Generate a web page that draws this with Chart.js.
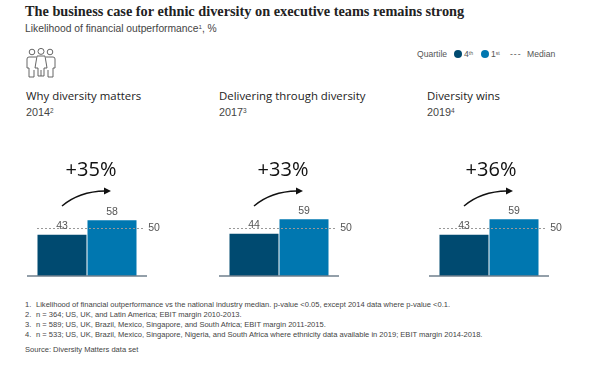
<!DOCTYPE html>
<html>
<head>
    <title>Ethnic diversity on executive teams</title>
    <script src="https://cdn.jsdelivr.net/npm/chart.js"></script>
    <style>
        html, body { margin: 0; padding: 0; background: #fff; overflow: hidden; }
        body { width: 594px; height: 367px; position: relative; font-family: "Liberation Sans", Arial, sans-serif; color: #444; }
        .t { position: absolute; white-space: nowrap; line-height: 1; }
        .t sup { font-size: 0.6em; line-height: 0; vertical-align: baseline; position: relative; top: -0.45em; }
        .title { left: 25px; top: 3px; font: bold 14.3px "Liberation Serif", serif; color: #222; }
        .sub { left: 25px; top: 24px; font-size: 10.3px; color: #444; }
        .panel-title { top: 88px; font: 11.4px "Open Sans", sans-serif; color: #222; }
        .year { top: 107px; font-size: 10.8px; color: #444; }
        .legend { top: 50px; font-size: 8.6px; color: #555; }
        .dot { position: absolute; top: 50px; width: 8px; height: 8px; border-radius: 50%; }
        .note { font-size: 7.55px; color: #444; }
        canvas { position: absolute; top: 150px; }
    </style>
</head>
<body>
    <div class="t title">The business case for ethnic diversity on executive teams remains strong</div>
    <div class="t sub">Likelihood of financial outperformance<sup>1</sup>, %</div>

    <div class="t legend" style="left:417px">Quartile</div>
    <div class="dot" style="left:454px;background:#004a70"></div>
    <div class="t legend" style="left:464px">4<sup>th</sup></div>
    <div class="dot" style="left:481px;background:#0077b0"></div>
    <div class="t legend" style="left:491px">1<sup>st</sup></div>
    <div class="t legend" style="left:510px;letter-spacing:1px">---</div>
    <div class="t legend" style="left:527px">Median</div>

    <svg style="position:absolute;left:26px;top:48px" width="30" height="31" viewBox="0 0 30 31" fill="none" stroke="#555" stroke-width="0.9">
        <circle cx="6" cy="4" r="2.8"/><circle cx="15" cy="3.4" r="3"/><circle cx="24" cy="4" r="2.8"/>
        <path d="M10 9H3Q1 9 1 11V20H3V29H8V22"/>
        <path d="M20 9H27Q29 9 29 11V20H27V29H22V22"/>
        <path d="M11 8H19L21 20H18V28H12V20H9Z"/>
        <path d="M15 22V28"/>
    </svg>

    <div class="t panel-title" style="left:26px">Why diversity matters</div>
    <div class="t panel-title" style="left:219px">Delivering through diversity</div>
    <div class="t panel-title" style="left:427px">Diversity wins</div>
    <div class="t year" style="left:26px">2014<sup>2</sup></div>
    <div class="t year" style="left:219px">2017<sup>3</sup></div>
    <div class="t year" style="left:427px">2019<sup>4</sup></div>

    <canvas id="chart0" width="160" height="130" style="left:20px"></canvas>
    <canvas id="chart1" width="160" height="130" style="left:212px"></canvas>
    <canvas id="chart2" width="160" height="130" style="left:422px"></canvas>

    <div class="t note" style="left:25px;top:301px">1.</div>
    <div class="t note" style="left:36px;top:301px">Likelihood of financial outperformance vs the national industry median. p-value &lt;0.05, except 2014 data where p-value &lt;0.1.</div>
    <div class="t note" style="left:25px;top:311px">2.</div>
    <div class="t note" style="left:36px;top:311px">n = 364; US, UK, and Latin America; EBIT margin 2010-2013.</div>
    <div class="t note" style="left:25px;top:321px">3.</div>
    <div class="t note" style="left:36px;top:321px">n = 589; US, UK, Brazil, Mexico, Singapore, and South Africa; EBIT margin 2011-2015.</div>
    <div class="t note" style="left:25px;top:331px">4.</div>
    <div class="t note" style="left:36px;top:331px">n = 533; US, UK, Brazil, Mexico, Singapore, Nigeria, and South Africa where ethnicity data available in 2019; EBIT margin 2014-2018.</div>
    <div class="t note" style="left:25px;top:346px">Source: Diversity Matters data set</div>

    <script>
        // data
        const quartiles = ['4th', '1st'];
        const fourth = [43, 44, 43];
        const first = [58, 59, 59];
        const median = [50, 50, 50];
        const uplift = ['+35%', '+33%', '+36%'];

        const barColors = ['#004a70', '#0077b0'];
        const upliftShift = [4, 4, 2];

        // labels, median line, baseline and arrow
        function overlay(i) {
            return {
                id: 'overlay' + i,
                afterDatasetsDraw(chart) {
                    const c = chart.ctx;
                    const xs = chart.scales.x;
                    const ys = chart.scales.y;
                    const a = chart.chartArea;
                    const bars = chart.getDatasetMeta(0).data;
                    const base = ys.getPixelForValue(0);

                    c.save();
                    // baseline
                    c.strokeStyle = '#6f7f8c';
                    c.lineWidth = 1.6;
                    c.beginPath();
                    c.moveTo(a.left - 10, base);
                    c.lineTo(a.right + 10, base);
                    c.stroke();

                    // median
                    const my = Math.round(ys.getPixelForValue(median[i])) + 0.5;
                    c.strokeStyle = '#999';
                    c.lineWidth = 1;
                    c.setLineDash([2, 2]);
                    c.beginPath();
                    c.moveTo(a.left, my);
                    c.lineTo(a.right + 7, my);
                    c.stroke();
                    c.setLineDash([]);

                    // value labels
                    c.fillStyle = '#555';
                    c.font = '10.5px "Liberation Sans", sans-serif';
                    c.textAlign = 'center';
                    c.textBaseline = 'middle';
                    c.fillText(fourth[i], bars[0].x, ys.getPixelForValue(fourth[i]) - 8.5);
                    c.fillText(first[i], bars[1].x, ys.getPixelForValue(first[i]) - 8);
                    c.fillText(median[i], a.right + 17, my);

                    // uplift text
                    c.fillStyle = '#111';
                    c.font = '20px "Open Sans", sans-serif';
                    c.fillText(uplift[i], (bars[0].x + bars[1].x) / 2 + upliftShift[i], 20);

                    // arrow
                    const x0 = bars[0].x;
                    const x1 = bars[1].x;
                    c.strokeStyle = '#111';
                    c.lineWidth = 1.5;
                    c.beginPath();
                    c.moveTo(x0, 56);
                    c.quadraticCurveTo(x0 + 17, 41.5, x1 - 7, 41);
                    c.stroke();
                    c.fillStyle = '#111';
                    c.beginPath();
                    c.moveTo(x1 - 1, 41);
                    c.lineTo(x1 - 8, 37.5);
                    c.lineTo(x1 - 8, 44.5);
                    c.closePath();
                    c.fill();
                    c.restore();
                }
            };
        }

        fourth.forEach((v, i) => {
            new Chart(document.getElementById('chart' + i), {
                type: 'bar',
                data: {
                    labels: quartiles,
                    datasets: [{
                        data: [fourth[i], first[i]],
                        backgroundColor: barColors,
                        barPercentage: 0.98,
                        categoryPercentage: 1
                    }]
                },
                options: {
                    responsive: false,
                    animation: false,
                    layout: { padding: { left: 17, right: 43, top: 68.4, bottom: 4 } },
                    plugins: { legend: { display: false }, tooltip: { enabled: false } },
                    scales: {
                        x: { display: false },
                        y: { display: false, min: 0, max: 60 }
                    }
                },
                plugins: [overlay(i)]
            });
        });
    </script>
</body>
</html>
